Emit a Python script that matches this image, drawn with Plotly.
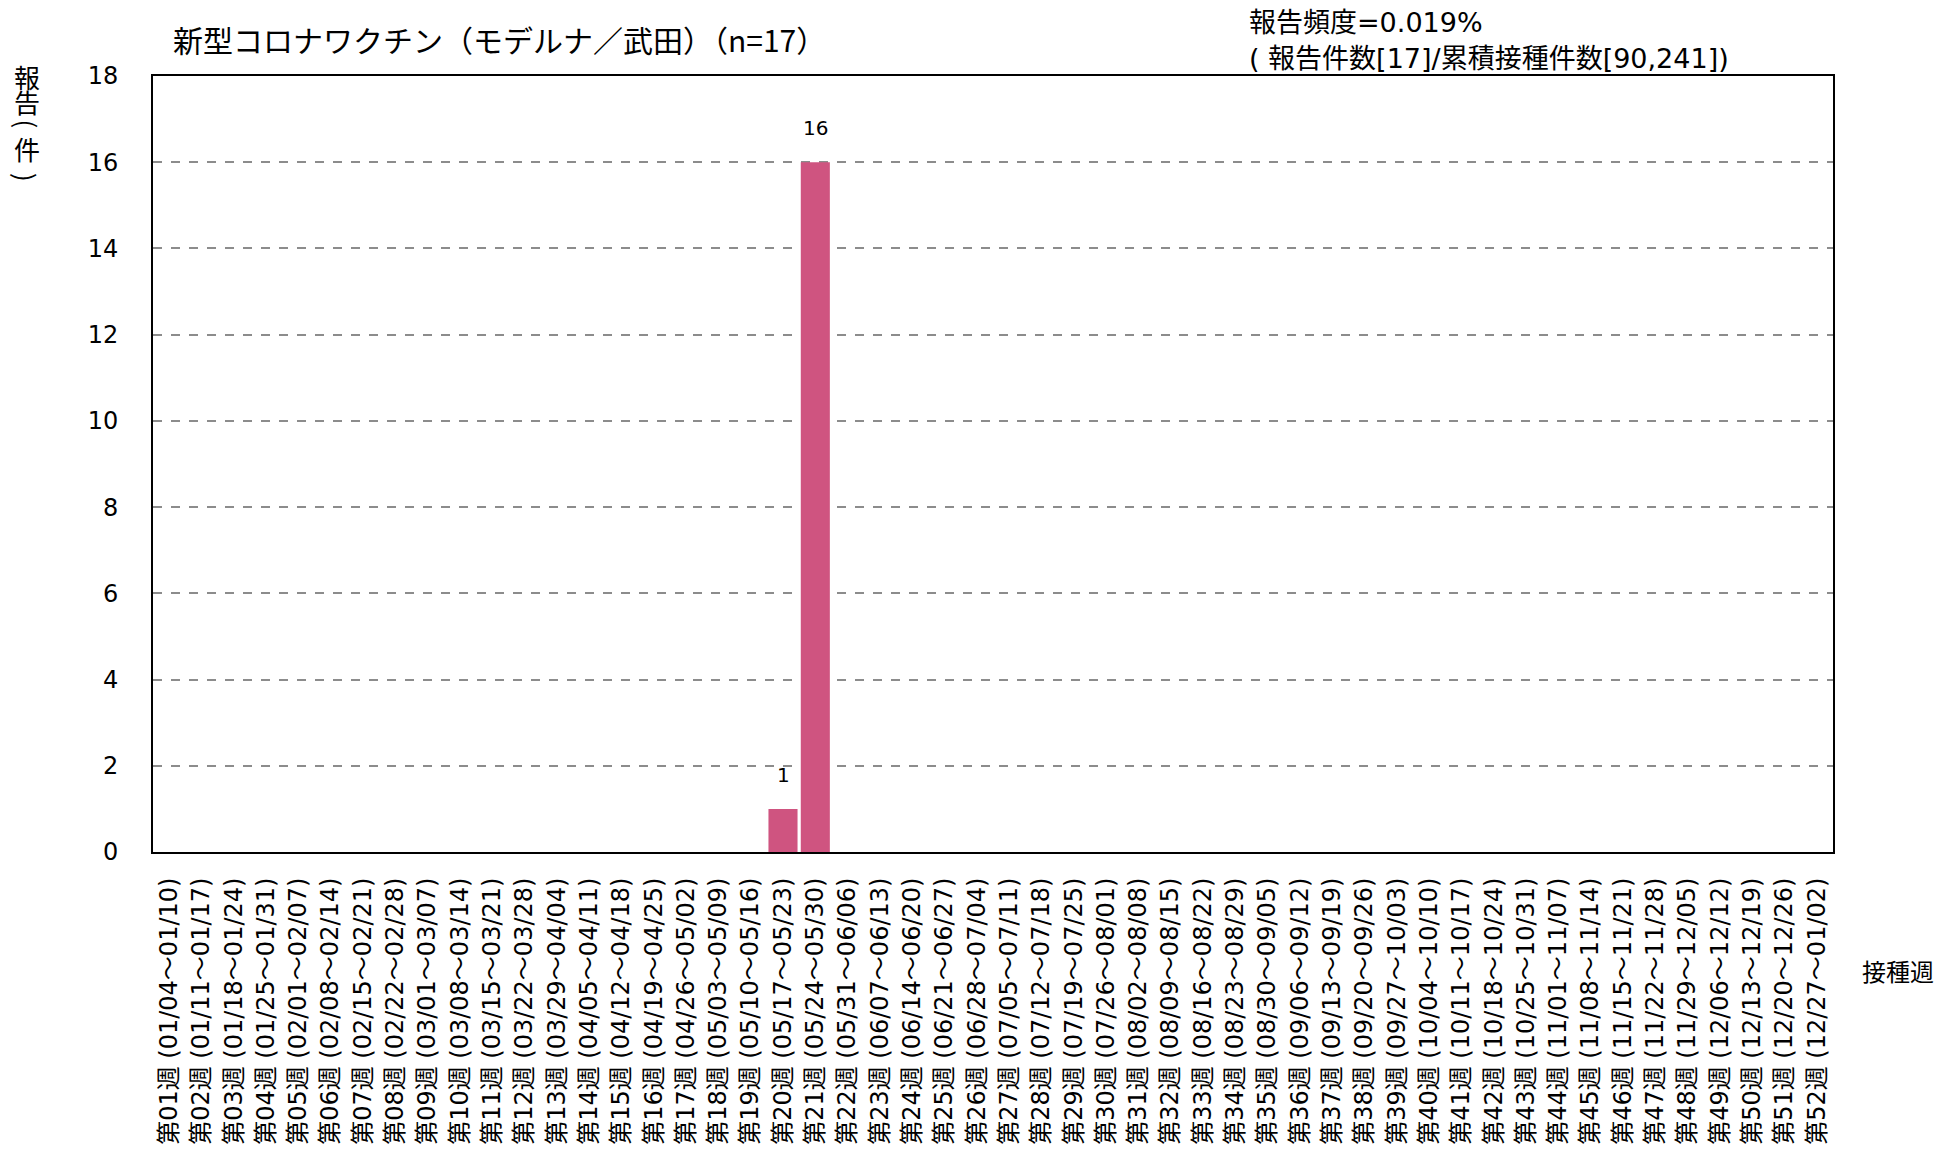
import plotly.graph_objects as go

week_labels = [
    "第01週 (01/04～01/10)", "第02週 (01/11～01/17)", "第03週 (01/18～01/24)", "第04週 (01/25～01/31)",
    "第05週 (02/01～02/07)", "第06週 (02/08～02/14)", "第07週 (02/15～02/21)", "第08週 (02/22～02/28)",
    "第09週 (03/01～03/07)", "第10週 (03/08～03/14)", "第11週 (03/15～03/21)", "第12週 (03/22～03/28)",
    "第13週 (03/29～04/04)", "第14週 (04/05～04/11)", "第15週 (04/12～04/18)", "第16週 (04/19～04/25)",
    "第17週 (04/26～05/02)", "第18週 (05/03～05/09)", "第19週 (05/10～05/16)", "第20週 (05/17～05/23)",
    "第21週 (05/24～05/30)", "第22週 (05/31～06/06)", "第23週 (06/07～06/13)", "第24週 (06/14～06/20)",
    "第25週 (06/21～06/27)", "第26週 (06/28～07/04)", "第27週 (07/05～07/11)", "第28週 (07/12～07/18)",
    "第29週 (07/19～07/25)", "第30週 (07/26～08/01)", "第31週 (08/02～08/08)", "第32週 (08/09～08/15)",
    "第33週 (08/16～08/22)", "第34週 (08/23～08/29)", "第35週 (08/30～09/05)", "第36週 (09/06～09/12)",
    "第37週 (09/13～09/19)", "第38週 (09/20～09/26)", "第39週 (09/27～10/03)", "第40週 (10/04～10/10)",
    "第41週 (10/11～10/17)", "第42週 (10/18～10/24)", "第43週 (10/25～10/31)", "第44週 (11/01～11/07)",
    "第45週 (11/08～11/14)", "第46週 (11/15～11/21)", "第47週 (11/22～11/28)", "第48週 (11/29～12/05)",
    "第49週 (12/06～12/12)", "第50週 (12/13～12/19)", "第51週 (12/20～12/26)", "第52週 (12/27～01/02)",
]

report_counts = [0] * 19 + [1, 16] + [0] * 31

y_ticks = [0, 2, 4, 6, 8, 10, 12, 14, 16, 18]

title_text = "新型コロナワクチン（モデルナ／武田）（n=17）"
freq_line1 = "報告頻度=0.019%"
freq_line2 = "( 報告件数[17]/累積接種件数[90,241])"
x_title = "接種週"
y_title_chars = ["報", "告", "(", "件", ")"]

FONT = "DejaVu Sans, Noto Sans CJK JP, sans-serif"
CJK = "Noto Sans CJK JP, sans-serif"
BAR_COLOR = "#CF5480"

W, H = 1936, 1157
ML, MR, MT, MB = 153, 103, 76, 298
PW, PH = W - ML - MR, H - MT - MB


def px_to_paper(fx, fy):
    return (fx - ML) / PW, 1 - (fy - MT) / PH


fig = go.Figure()
fig.add_trace(go.Bar(
    x=week_labels,
    y=report_counts,
    marker=dict(color=BAR_COLOR, line=dict(width=0)),
    hoverinfo="x+y",
))

annotations = []
for lab, v in zip(week_labels, report_counts):
    if v > 0:
        annotations.append(dict(
            x=lab, y=v, xref="x", yref="y", text=str(v), showarrow=False,
            yanchor="middle", yshift=34, font=dict(family=FONT, size=20, color="#000"),
        ))


def add_px_text(text, fx, fy, size, family, xanchor="left", textangle=0):
    px, py = px_to_paper(fx, fy)
    annotations.append(dict(
        x=px, y=py, xref="paper", yref="paper", xanchor=xanchor, yanchor="middle",
        text=text, showarrow=False, textangle=textangle,
        font=dict(family=family, size=size, color="#000"),
    ))


add_px_text(freq_line1, 1247, 22, 27, FONT)
add_px_text(freq_line2, 1247, 58, 27, FONT)
add_px_text(x_title, 1898, 979, 24, CJK, xanchor="center")
y_title_pos = [76, 102, 124, 149, 178]
for ch, py in zip(y_title_chars, y_title_pos):
    ang = 90 if ch in "()" else 0
    add_px_text(ch, 27, py, 26, CJK, xanchor="center", textangle=ang)

fig.update_layout(
    width=W, height=H,
    margin=dict(l=ML, r=MR, t=MT, b=MB),
    paper_bgcolor="white", plot_bgcolor="white",
    showlegend=False,
    bargap=0.1,
    title=dict(
        text=title_text, x=173 / W, xanchor="left", xref="container",
        y=1 - 41 / H, yanchor="middle", yref="container",
        font=dict(family=CJK, size=30, color="#000"),
    ),
    font=dict(family=FONT, color="#000"),
    xaxis=dict(
        type="category", tickangle=-90, showgrid=False,
        showline=True, linecolor="#000", linewidth=2, mirror=True,
        ticks="", ticklabelstandoff=14,
        tickfont=dict(family=FONT, size=24, color="#000"),
    ),
    yaxis=dict(
        range=[0, 18], tickvals=y_ticks, showgrid=True, gridcolor="#8c8c8c", griddash="dash", gridwidth=1.5,
        showline=True, linecolor="#000", linewidth=2, mirror=True, zeroline=False,
        ticks="", ticklabelstandoff=28,
        tickfont=dict(family=FONT, size=24, color="#000"),
    ),
    annotations=annotations,
)

fig.write_html(
    "out.html",
    config={"displayModeBar": False},
    post_script="document.body.style.margin='0';document.body.style.overflow='hidden';",
)
